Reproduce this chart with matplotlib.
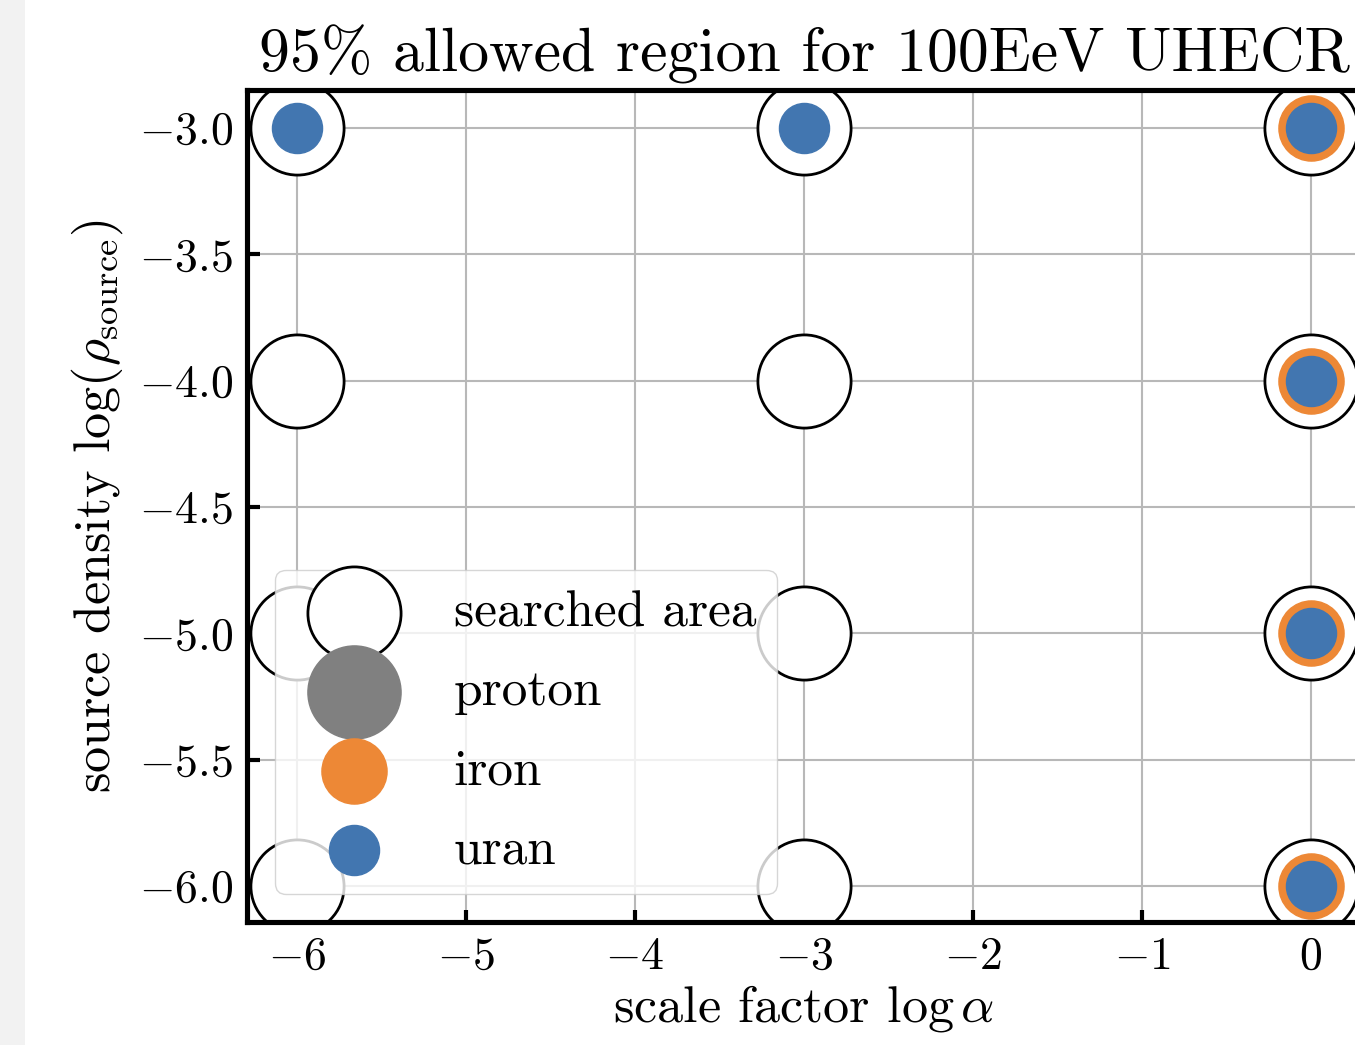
import matplotlib
matplotlib.use("Agg")
import matplotlib.pyplot as plt
from matplotlib.patches import Rectangle

plt.rcParams['font.family'] = 'serif'
plt.rcParams['font.serif'] = ['cmr10']
plt.rcParams['mathtext.fontset'] = 'cm'
plt.rcParams['axes.formatter.use_mathtext'] = True

# searched grid (log alpha, log rho)
searched_x = [-6, -6, -6, -6, -3, -3, -3, -3, 0, 0, 0, 0]
searched_y = [-3, -4, -5, -6, -3, -4, -5, -6, -3, -4, -5, -6]

# points inside the 95% region per composition
proton_x = []
proton_y = []
iron_x = [0, 0, 0, 0]
iron_y = [-3, -4, -5, -6]
uran_x = [-6, -3, 0, 0, 0, 0]
uran_y = [-3, -3, -3, -4, -5, -6]

xticks = [-6, -5, -4, -3, -2, -1, 0]
yticks = [-3.0, -3.5, -4.0, -4.5, -5.0, -5.5, -6.0]

fig = plt.figure(figsize=(13.55, 10.45), dpi=100)
# light strip on the left edge
fig.patches.append(Rectangle((0, 0), 25 / 1355, 1, transform=fig.transFigure,
                             facecolor='#f2f2f2', edgecolor='none', zorder=-1))
ax = fig.add_axes([247 / 1355, 123 / 1045, 1114 / 1355, 832 / 1045])

ax.scatter(searched_x, searched_y, s=4500, facecolor='white', edgecolor='black',
           linewidth=2.0, label='searched area', zorder=2)
ax.scatter(proton_x, proton_y, s=4500, color='gray', label='proton', zorder=3)
ax.scatter(iron_x, iron_y, s=2200, color='#ed8836', label='iron', zorder=4)
ax.scatter(uran_x, uran_y, s=1300, color='#4276b0', label='uran', zorder=5)

ax.set_xlim(-6.296, 0.296)
ax.set_ylim(-6.143, -2.85)
ax.set_xticks(xticks)
ax.set_yticks(yticks)
ax.grid(color='#b8b8b8', linewidth=1.5, zorder=0)
ax.set_axisbelow(True)
ax.tick_params(direction='in', length=9, width=3, labelsize=33, pad=10)
for sp in ax.spines.values():
    sp.set_linewidth(3.7)
    sp.set_zorder(6)

ax.set_xlabel(r'scale factor $\log\alpha$', fontsize=37.5, labelpad=4)
ax.set_ylabel(r'source density $\log(\rho_\mathrm{source})$', fontsize=37.5, labelpad=10)
ax.set_title('95% allowed region for 100EeV UHECR', fontsize=44.5, pad=13)

leg = ax.legend(loc='lower left', fontsize=37, framealpha=0.8, borderaxespad=0.55,
                handlelength=2.27, handletextpad=0.8, labelspacing=0.64)
leg.set_zorder(7)

fig.savefig('out.png', dpi=100)
